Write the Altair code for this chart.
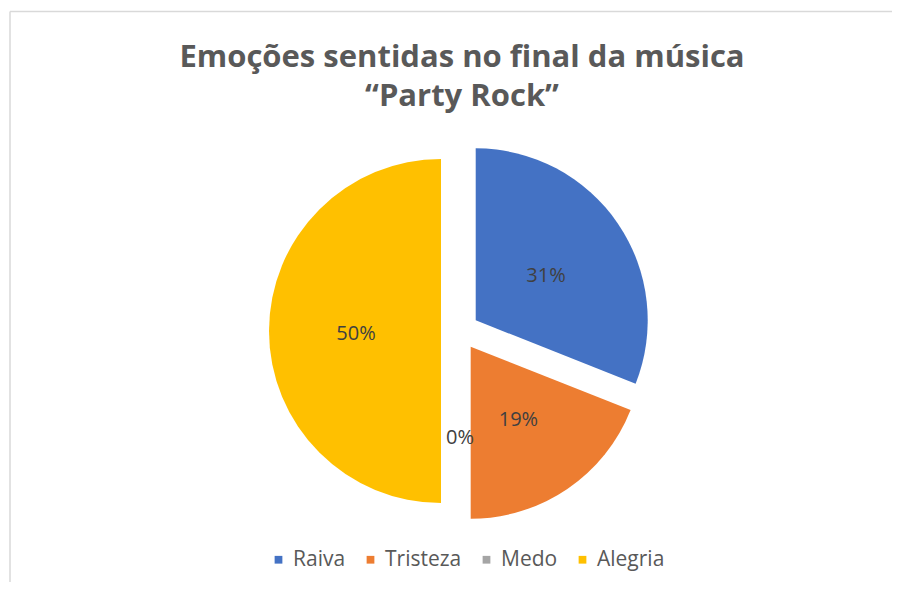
import altair as alt
import pandas as pd

# ---- data ----
categories = ["Raiva", "Tristeza", "Medo", "Alegria"]
values = [31, 19, 0, 50]
colors = ["#4472C4", "#ED7D31", "#A5A5A5", "#FFC000"]
title_lines = ["Emoções sentidas no final da música", "“Party Rock”"]

df = pd.DataFrame({"categoria": categories, "valor": values,
                   "ordem": list(range(len(categories)))})

# ---- layout ----
W, H = 884, 574
CX, CY = 452, 323      # pie centre (plot coords)
R = 172                # radius
EXPLODE = 19           # explosion distance
LABEL_R = 104          # label distance from pie centre

base = (
    alt.Chart(df)
    .transform_joinaggregate(total="sum(valor)")
    .transform_window(cum="sum(valor)", sort=[alt.SortField("ordem")], frame=[None, 0])
    .transform_calculate(t1="2*PI*datum.cum/datum.total")
    .transform_calculate(t0="2*PI*(datum.cum-datum.valor)/datum.total")
    .transform_calculate(frac="datum.valor/datum.total")
    .transform_calculate(mid="(datum.t0+datum.t1)/2")
    .transform_calculate(px=f"{CX}+{EXPLODE}*sin(datum.mid)")
    .transform_calculate(py=f"{CY}-{EXPLODE}*cos(datum.mid)")
    .transform_calculate(lx=f"{CX}+{LABEL_R}*sin(datum.mid)")
    .transform_calculate(ly=f"{CY}-{LABEL_R}*cos(datum.mid)")
)

pie = base.mark_arc(outerRadius=R).encode(
    x=alt.X("px:Q", scale=None, axis=None),
    y=alt.Y("py:Q", scale=None, axis=None),
    theta=alt.Theta("t0:Q", scale=None),
    theta2="t1:Q",
    color=alt.Color(
        "categoria:N",
        scale=alt.Scale(domain=categories, range=colors),
        sort=categories,
        legend=alt.Legend(
            title=None, orient="none", legendX=260, legendY=541,
            direction="horizontal", symbolType="square", symbolSize=60,
            symbolStrokeWidth=0, labelFont="Open Sans", labelFontSize=21,
            labelColor="#595959", labelOffset=4, columnPadding=14, padding=0,
        ),
    ),
)

labels = base.mark_text(
    font="Open Sans", fontSize=20, color="#404040", baseline="middle",
    align="center", dy=3,
).encode(
    x=alt.X("lx:Q", scale=None, axis=None),
    y=alt.Y("ly:Q", scale=None, axis=None),
    text=alt.Text("frac:Q", format=".0%"),
)

title_df = pd.DataFrame({"linha": title_lines, "n": [0, 1]})
title = alt.Chart(title_df).mark_text(
    font="Open Sans", fontSize=31, fontWeight="bold", color="#595959",
    align="center", baseline="alphabetic",
).encode(
    x=alt.value(454),
    y=alt.Y("n:Q", scale=alt.Scale(domain=[0, 1], range=[59, 98]), axis=None),
    text="linha:N",
)

frame_top = alt.Chart(alt.Data(values=[{}])).mark_rule(color="#D9D9D9", strokeWidth=1.5).encode(
    x=alt.value(2), x2=alt.value(W), y=alt.value(3.5)
)
frame_left = alt.Chart(alt.Data(values=[{}])).mark_rule(color="#D9D9D9", strokeWidth=1.5).encode(
    x=alt.value(2), y=alt.value(3.5), y2=alt.value(H)
)

chart = (
    alt.layer(frame_top, frame_left, pie, labels, title)
    .resolve_scale(y="independent")
    .properties(width=W, height=H, padding=0,
                autosize=alt.AutoSizeParams(type="none"), background="white")
    .configure_view(stroke=None)
)

chart.save("out.html", embed_options={"renderer": "svg", "actions": False})
